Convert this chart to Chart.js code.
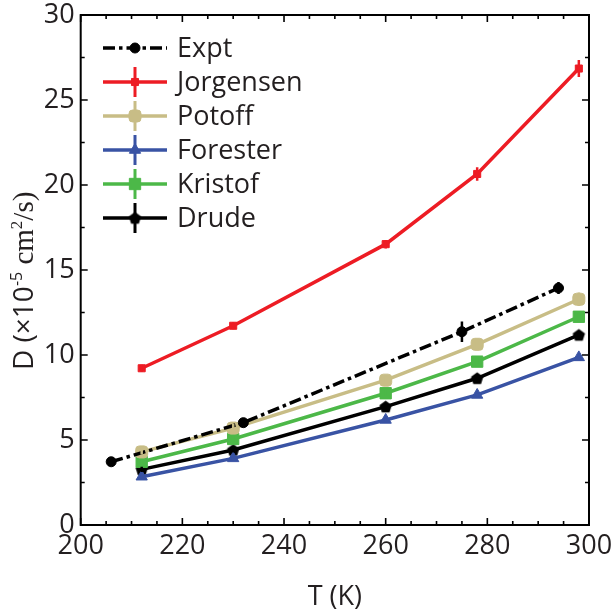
<!DOCTYPE html>
<html>
<head>
<meta charset="utf-8">
<script src="https://cdn.jsdelivr.net/npm/chart.js@4.4.1/dist/chart.umd.min.js"></script>
<style>
  html, body { margin: 0; padding: 0; background: #ffffff; }
  canvas { display: block; }
</style>
</head>
<body>
<canvas id="chart" width="613" height="611"></canvas>
<script>
// Self-diffusion coefficient D (1e-5 cm^2/s) versus temperature T (K)
const seriesNames = ['Expt', 'Jorgensen', 'Potoff', 'Forester', 'Kristof', 'Drude'];

const exptT = [206, 232, 275, 294];
const exptD = [3.72, 6.02, 11.37, 13.94];
const exptErr = [0.1, 0.25, 0.6, 0.35];

const modelT = [212, 230, 260, 278, 298];
const jorgensenD = [9.22, 11.72, 16.52, 20.65, 26.85];
const jorgensenErr = [0.2, 0.2, 0.25, 0.4, 0.5];
const potoffD = [4.3, 5.7, 8.52, 10.63, 13.28];
const potoffErr = [0.15, 0.25, 0.2, 0.25, 0.4];
const foresterD = [2.84, 3.92, 6.18, 7.65, 9.86];
const foresterErr = [0.1, 0.1, 0.1, 0.1, 0.15];
const kristofD = [3.72, 5.06, 7.75, 9.61, 12.25];
const kristofErr = [0.15, 0.15, 0.15, 0.2, 0.2];
const drudeD = [3.27, 4.41, 6.96, 8.63, 11.18];
const drudeErr = [0.15, 0.15, 0.15, 0.15, 0.2];

const xTickLabels = [200, 220, 240, 260, 280, 300];
const yTickLabels = [0, 5, 10, 15, 20, 25, 30];

const TEXT = '#231f20';
const SANS = "'Open Sans', 'DejaVu Sans', sans-serif";
const SERIF = "'Liberation Serif', 'DejaVu Serif', serif";

// pentagon marker for the Drude series
function pentagon(color, r) {
  const c = document.createElement('canvas');
  const s = Math.ceil(r * 2 + 2);
  c.width = s; c.height = s;
  const g = c.getContext('2d');
  g.fillStyle = color;
  g.beginPath();
  for (let k = 0; k < 5; k++) {
    const a = -Math.PI / 2 + k * 2 * Math.PI / 5;
    const px = s / 2 + r * Math.cos(a), py = s / 2 + r * Math.sin(a) + 0.5;
    k ? g.lineTo(px, py) : g.moveTo(px, py);
  }
  g.closePath();
  g.fill();
  return c;
}

function pts(ts, ds) { return ts.map((t, i) => ({ x: t, y: ds[i] })); }

function series(label, ts, ds, errs, color, style, radius, dash) {
  return {
    label,
    data: pts(ts, ds),
    errors: errs,
    borderColor: color,
    backgroundColor: color,
    pointBackgroundColor: color,
    pointBorderColor: color,
    borderWidth: 3.5,
    borderDash: dash || [],
    pointStyle: style,
    pointRadius: radius,
    pointBorderWidth: 1,
    tension: 0,
    fill: false
  };
}

const datasets = [
  series(seriesNames[0], exptT, exptD, exptErr, '#000000', 'circle', 5, [12, 4, 3.5, 4]),
  series(seriesNames[1], modelT, jorgensenD, jorgensenErr, '#ed1c24', 'rect', 5),
  series(seriesNames[2], modelT, potoffD, potoffErr, '#c8bd86', 'rectRounded', 7),
  series(seriesNames[3], modelT, foresterD, foresterErr, '#3953a4', 'triangle', 6.5),
  series(seriesNames[4], modelT, kristofD, kristofErr, '#4cb848', 'rect', 8),
  series(seriesNames[5], modelT, drudeD, drudeErr, '#000000', pentagon('#000000', 6.5), 6.5)
];

// vertical error bars, placed through the chart scales
const errorBars = {
  id: 'errorBars',
  afterDatasetsDraw(chart) {
    const { ctx, scales: { x, y } } = chart;
    ctx.save();
    chart.data.datasets.forEach(ds => {
      ctx.strokeStyle = ds.borderColor;
      ctx.lineWidth = 2.5;
      ctx.setLineDash([]);
      ctx.beginPath();
      ds.data.forEach((p, i) => {
        const e = ds.errors[i];
        const px = x.getPixelForValue(p.x);
        ctx.moveTo(px, y.getPixelForValue(p.y - e));
        ctx.lineTo(px, y.getPixelForValue(p.y + e));
      });
      ctx.stroke();
    });
    ctx.restore();
  }
};

// boxed frame with inward ticks on all four sides
const frame = {
  id: 'frame',
  afterDraw(chart) {
    const { ctx, chartArea: a, scales: { x, y } } = chart;
    ctx.save();
    ctx.strokeStyle = '#000';
    ctx.lineWidth = 1.6;
    ctx.setLineDash([]);
    ctx.beginPath();
    x.ticks.forEach(t => {
      const px = x.getPixelForValue(t.value);
      const L = xTickLabels.includes(t.value) ? 7 : 4;
      ctx.moveTo(px, a.bottom); ctx.lineTo(px, a.bottom - L);
      ctx.moveTo(px, a.top); ctx.lineTo(px, a.top + L);
    });
    y.ticks.forEach(t => {
      const py = y.getPixelForValue(t.value);
      const L = yTickLabels.includes(t.value) ? 7 : 4;
      ctx.moveTo(a.left, py); ctx.lineTo(a.left + L, py);
      ctx.moveTo(a.right, py); ctx.lineTo(a.right - L, py);
    });
    ctx.stroke();
    ctx.lineWidth = 2;
    ctx.strokeRect(a.left, a.top, a.right - a.left, a.bottom - a.top);
    ctx.restore();
  }
};

// legend: line sample with error bar and marker, then the series name
const legendBox = {
  id: 'legendBox',
  afterDraw(chart) {
    const { ctx } = chart;
    ctx.save();
    chart.data.datasets.forEach((ds, i) => {
      const yy = 48 + i * 34;
      ctx.strokeStyle = ds.borderColor;
      ctx.fillStyle = ds.borderColor;
      ctx.lineWidth = 3.5;
      ctx.setLineDash(ds.borderDash);
      ctx.beginPath();
      ctx.moveTo(103, yy); ctx.lineTo(167, yy);
      ctx.stroke();
      ctx.setLineDash([]);
      if (i > 0) {
        ctx.lineWidth = 3;
        ctx.beginPath();
        ctx.moveTo(135, yy - 15); ctx.lineTo(135, yy + 15);
        ctx.stroke();
      }
      ctx.lineWidth = 1;
      Chart.helpers.drawPoint(ctx, {
        pointStyle: ds.pointStyle, radius: ds.pointRadius, rotation: 0, borderWidth: 1
      }, 135, yy);
      ctx.fillStyle = TEXT;
      ctx.font = '27px ' + SANS;
      ctx.textBaseline = 'middle';
      ctx.textAlign = 'left';
      ctx.fillText(ds.label, 177, yy + 1);
    });
    ctx.restore();
  }
};

// rotated y-axis title with superscripts
const yTitle = {
  id: 'yTitle',
  afterDraw(chart) {
    const { ctx } = chart;
    ctx.save();
    ctx.translate(33, 370);
    ctx.rotate(-Math.PI / 2);
    ctx.fillStyle = TEXT;
    ctx.textBaseline = 'alphabetic';
    ctx.textAlign = 'left';
    const parts = [
      ['D (\u00d710', '28px ' + SANS, 0],
      ['-5', '16px ' + SANS, -11],
      [' cm', '29px ' + SERIF, 0],
      ['2', '17px ' + SERIF, -11],
      ['/s)', '29px ' + SERIF, 0]
    ];
    let cx = 0;
    parts.forEach(([t, f, dy]) => {
      ctx.font = f;
      ctx.fillText(t, cx, dy);
      cx += ctx.measureText(t).width;
    });
    ctx.restore();
  }
};

new Chart(document.getElementById('chart'), {
  type: 'line',
  data: { datasets },
  options: {
    responsive: false,
    animation: false,
    layout: { padding: { left: 0, right: 24, top: 15, bottom: 0 } },
    plugins: { legend: { display: false }, tooltip: { enabled: false } },
    scales: {
      x: {
        type: 'linear', min: 200, max: 300,
        grid: { display: false, drawTicks: false },
        border: { display: false },
        ticks: {
          stepSize: 5, autoSkip: false, maxRotation: 0, padding: 5,
          color: TEXT, font: { family: SANS, size: 27 },
          callback: v => xTickLabels.includes(v) ? String(v) : ''
        },
        title: {
          display: true, text: 'T (K)', color: TEXT, padding: 0,
          font: { family: SANS, size: 27, lineHeight: 1 }
        },
        afterFit(s) { s.height = 86; s.paddingLeft = 0; s.paddingRight = 0; }
      },
      y: {
        type: 'linear', min: 0, max: 30,
        grid: { display: false, drawTicks: false },
        border: { display: false },
        ticks: {
          stepSize: 2.5, autoSkip: false, padding: 6,
          color: TEXT, font: { family: SANS, size: 27 },
          callback: v => yTickLabels.includes(v) ? String(v) : ''
        },
        afterFit(s) { s.width = 80.7; s.paddingTop = 0; s.paddingBottom = 0; }
      }
    }
  },
  plugins: [errorBars, frame, legendBox, yTitle]
});
</script>
</body>
</html>
